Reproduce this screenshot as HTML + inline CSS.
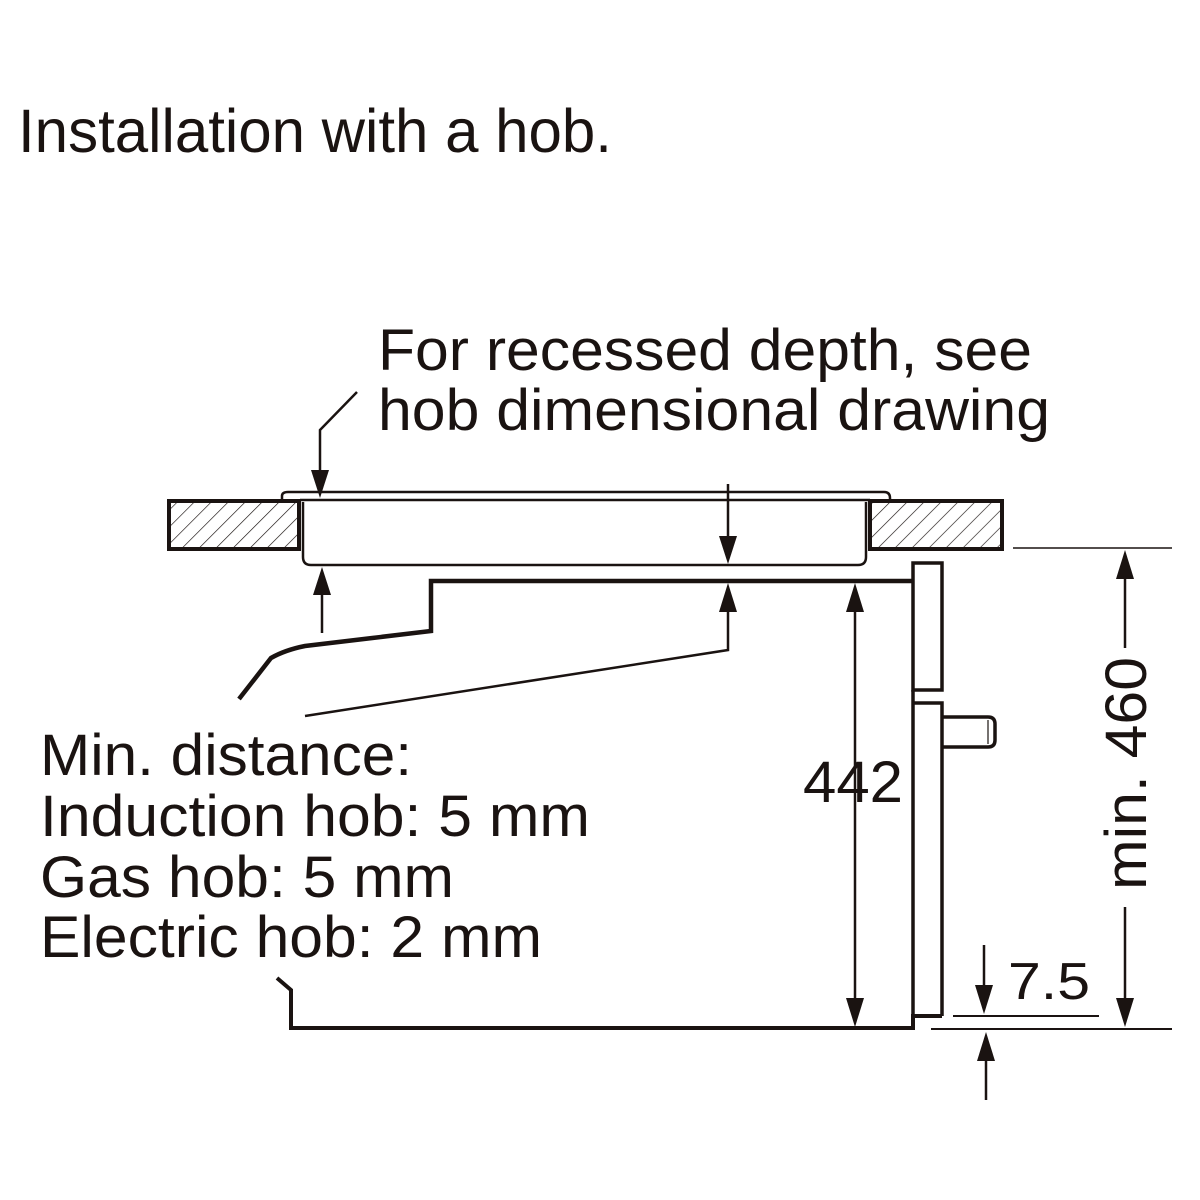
<!DOCTYPE html>
<html><head><meta charset="utf-8"><style>
html,body{margin:0;padding:0;background:#fff;width:1200px;height:1200px;overflow:hidden}
svg text{font-family:"Liberation Sans",Arial,sans-serif;fill:#1a1311}
</style></head><body>
<svg width="1200" height="1200" viewBox="0 0 1200 1200" xmlns="http://www.w3.org/2000/svg">
<defs>
<pattern id="h" patternUnits="userSpaceOnUse" width="12" height="12" patternTransform="rotate(45)">
<line x1="0" y1="0" x2="0" y2="12" stroke="#1a1311" stroke-width="1.3"/>
</pattern>
<marker id="a" viewBox="0 0 10 10" refX="10" refY="5" markerWidth="8" markerHeight="10" markerUnits="userSpaceOnUse" orient="auto">
</marker>
</defs>
<g fill="none" stroke="#1a1311" stroke-linejoin="miter">
<!-- worktops -->
<rect x="169" y="501" width="130" height="48" fill="url(#h)" stroke-width="4"/>
<rect x="870" y="501" width="132" height="48" fill="url(#h)" stroke-width="4"/>
<!-- hob -->
<path d="M282 500 V496 Q282 492 288 492 H884 Q890 492 890 498 V500" stroke-width="2.5"/>
<line x1="300" y1="500" x2="870" y2="500" stroke-width="2.5"/>
<path d="M303 502 V557 Q303 565 311 565 H858 Q866 565 866 557 V502" stroke-width="2.5"/>
<!-- oven top -->
<path d="M913 581 H431 V631 L305 646 Q285 650 271 658 L239 699" stroke-width="4.5"/>
<!-- panels -->
<path d="M913 581 V563 H942 V690 H913 Z" stroke-width="3.5"/>
<path d="M913 690 V1016 M913 703 H942 V1016" stroke-width="3.5"/>
<path d="M942 717 H988 Q995 717 995 724 V740 Q995 747 988 747 H942" stroke-width="3.5"/>
<line x1="988" y1="720" x2="988" y2="744" stroke-width="1.2"/>
<!-- bottom -->
<path d="M277 978 L291 990 V1028 H913 V1016 H942" stroke-width="4"/>
<!-- leader lines -->
<path d="M357 392 L320 430 V488" stroke-width="2.5"/>
<line x1="728" y1="484" x2="728" y2="545" stroke-width="2.5"/>
<line x1="322" y1="633" x2="322" y2="585" stroke-width="2.5"/>
<path d="M305 716 L728 650 V602" stroke-width="2.5"/>
<!-- 442 -->
<line x1="855" y1="602" x2="855" y2="1010" stroke-width="2.5"/>
<!-- 460 -->
<line x1="1013" y1="548" x2="1172" y2="548" stroke-width="1.5"/>
<line x1="931" y1="1029" x2="1172" y2="1029" stroke-width="2"/>
<line x1="1125" y1="568" x2="1125" y2="648" stroke-width="2.5"/>
<line x1="1125" y1="907" x2="1125" y2="1010" stroke-width="2.5"/>
<!-- 7.5 -->
<line x1="953" y1="1016" x2="1099" y2="1016" stroke-width="2"/>
<line x1="984" y1="945" x2="984" y2="1000" stroke-width="2.5"/>
<line x1="986" y1="1100" x2="986" y2="1050" stroke-width="2.5"/>
</g>
<g fill="#1a1311">
<!-- arrowheads -->
<polygon points="320,498 311,470 329,470"/>
<polygon points="728,564 719,536 737,536"/>
<polygon points="322,567 313,595 331,595"/>
<polygon points="728,583 719,612 737,612"/>
<polygon points="855,583 846,612 864,612"/>
<polygon points="855,1027 846,998 864,998"/>
<polygon points="1125,550 1116,579 1134,579"/>
<polygon points="1125,1027 1116,998 1134,998"/>
<polygon points="984,1014 975,985 993,985"/>
<polygon points="986,1032 977,1061 995,1061"/>
</g>
<text x="18" y="152" font-size="61" textLength="594" lengthAdjust="spacingAndGlyphs">Installation with a hob.</text>
<text x="378" y="370" font-size="58" textLength="654" lengthAdjust="spacingAndGlyphs">For recessed depth, see</text>
<text x="378" y="430" font-size="58" textLength="672" lengthAdjust="spacingAndGlyphs">hob dimensional drawing</text>
<text x="40" y="775" font-size="58" textLength="372" lengthAdjust="spacingAndGlyphs">Min. distance:</text>
<text x="40" y="836" font-size="58" textLength="550" lengthAdjust="spacingAndGlyphs">Induction hob: 5 mm</text>
<text x="40" y="897" font-size="58" textLength="414" lengthAdjust="spacingAndGlyphs">Gas hob: 5 mm</text>
<text x="40" y="957" font-size="58" textLength="502" lengthAdjust="spacingAndGlyphs">Electric hob: 2 mm</text>
<text x="803" y="802" font-size="58" textLength="100" lengthAdjust="spacingAndGlyphs">442</text>
<text x="1008" y="999" font-size="52" textLength="82" lengthAdjust="spacingAndGlyphs">7.5</text>
<text transform="translate(1146,890) rotate(-90)" font-size="58" textLength="233" lengthAdjust="spacingAndGlyphs">min. 460</text>
</svg>
</body></html>
